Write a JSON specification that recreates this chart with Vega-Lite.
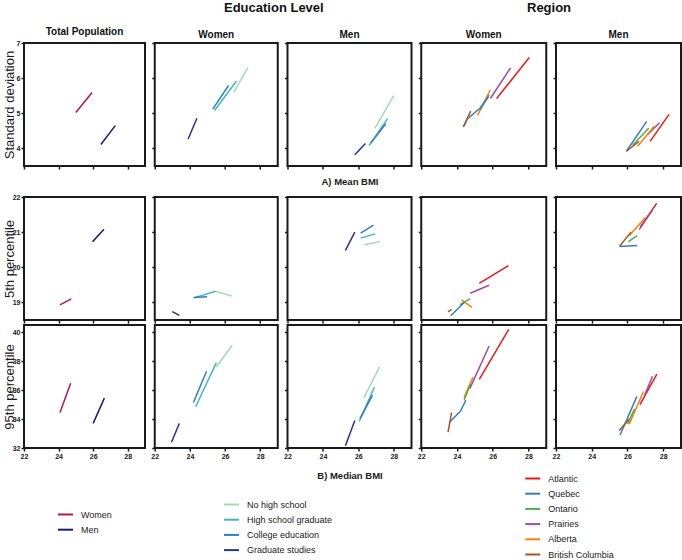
{
  "$schema": "https://vega.github.io/schema/vega-lite/v6.json",
  "padding": {"left": 2, "top": 1, "right": 0, "bottom": 0},
  "background": "white",
  "title": {"text": "Region", "anchor": "start", "dx": 525, "offset": -13, "fontSize": 13, "fontWeight": "bold"},
  "datasets": {
    "bmi": [
      {"c":1,"s":"SD","g":"Women","o":1,"x":25.0,"y":5.02},{"c":1,"s":"SD","g":"Women","o":2,"x":25.94,"y":5.59},
      {"c":1,"s":"SD","g":"Men","o":1,"x":26.45,"y":4.11},{"c":1,"s":"SD","g":"Men","o":2,"x":27.28,"y":4.65},
      {"c":1,"s":"P5","g":"Women","o":1,"x":24.08,"y":18.93},{"c":1,"s":"P5","g":"Women","o":2,"x":24.73,"y":19.1},
      {"c":1,"s":"P5","g":"Men","o":1,"x":25.97,"y":20.73},{"c":1,"s":"P5","g":"Men","o":2,"x":26.63,"y":21.08},
      {"c":1,"s":"P95","g":"Women","o":1,"x":24.08,"y":34.45},{"c":1,"s":"P95","g":"Women","o":2,"x":24.7,"y":36.48},
      {"c":1,"s":"P95","g":"Men","o":1,"x":26.0,"y":33.7},{"c":1,"s":"P95","g":"Men","o":2,"x":26.65,"y":35.45},

      {"c":2,"s":"SD","g":"No high school","o":1,"x":26.5,"y":5.6},{"c":2,"s":"SD","g":"No high school","o":2,"x":27.3,"y":6.3},
      {"c":2,"s":"SD","g":"High school graduate","o":1,"x":25.4,"y":5.08},{"c":2,"s":"SD","g":"High school graduate","o":2,"x":26.65,"y":5.92},
      {"c":2,"s":"SD","g":"College education","o":1,"x":25.3,"y":5.12},{"c":2,"s":"SD","g":"College education","o":2,"x":26.2,"y":5.79},
      {"c":2,"s":"SD","g":"Graduate studies","o":1,"x":23.9,"y":4.27},{"c":2,"s":"SD","g":"Graduate studies","o":2,"x":24.4,"y":4.86},
      {"c":2,"s":"P5","g":"No high school","o":1,"x":25.47,"y":19.32},{"c":2,"s":"P5","g":"No high school","o":2,"x":26.4,"y":19.18},
      {"c":2,"s":"P5","g":"High school graduate","o":1,"x":24.22,"y":19.13},{"c":2,"s":"P5","g":"High school graduate","o":2,"x":25.47,"y":19.32},
      {"c":2,"s":"P5","g":"College education","o":1,"x":24.22,"y":19.14},{"c":2,"s":"P5","g":"College education","o":2,"x":24.98,"y":19.16},
      {"c":2,"s":"P5","g":"Graduate studies","o":1,"x":23.0,"y":18.74},{"c":2,"s":"P5","g":"Graduate studies","o":2,"x":23.4,"y":18.63},
      {"c":2,"s":"P95","g":"No high school","o":1,"x":25.5,"y":37.6},{"c":2,"s":"P95","g":"No high school","o":2,"x":26.4,"y":39.1},
      {"c":2,"s":"P95","g":"High school graduate","o":1,"x":24.33,"y":34.85},{"c":2,"s":"P95","g":"High school graduate","o":2,"x":25.5,"y":37.88},
      {"c":2,"s":"P95","g":"College education","o":1,"x":24.2,"y":35.15},{"c":2,"s":"P95","g":"College education","o":2,"x":24.95,"y":37.3},
      {"c":2,"s":"P95","g":"Graduate studies","o":1,"x":22.95,"y":32.4},{"c":2,"s":"P95","g":"Graduate studies","o":2,"x":23.4,"y":33.7},

      {"c":3,"s":"SD","g":"No high school","o":1,"x":26.93,"y":4.57},{"c":3,"s":"SD","g":"No high school","o":2,"x":28.0,"y":5.5},
      {"c":3,"s":"SD","g":"High school graduate","o":1,"x":26.6,"y":4.08},{"c":3,"s":"SD","g":"High school graduate","o":2,"x":27.65,"y":4.85},
      {"c":3,"s":"SD","g":"College education","o":1,"x":26.7,"y":4.15},{"c":3,"s":"SD","g":"College education","o":2,"x":27.55,"y":4.7},
      {"c":3,"s":"SD","g":"Graduate studies","o":1,"x":25.8,"y":3.82},{"c":3,"s":"SD","g":"Graduate studies","o":2,"x":26.4,"y":4.14},
      {"c":3,"s":"P5","g":"No high school","o":1,"x":26.33,"y":20.64},{"c":3,"s":"P5","g":"No high school","o":2,"x":27.22,"y":20.73},
      {"c":3,"s":"P5","g":"High school graduate","o":1,"x":26.13,"y":20.83},{"c":3,"s":"P5","g":"High school graduate","o":2,"x":26.95,"y":20.95},
      {"c":3,"s":"P5","g":"College education","o":1,"x":26.13,"y":20.97},{"c":3,"s":"P5","g":"College education","o":2,"x":26.85,"y":21.2},
      {"c":3,"s":"P5","g":"Graduate studies","o":1,"x":25.27,"y":20.48},{"c":3,"s":"P5","g":"Graduate studies","o":2,"x":25.8,"y":21.0},
      {"c":3,"s":"P95","g":"No high school","o":1,"x":26.3,"y":35.45},{"c":3,"s":"P95","g":"No high school","o":2,"x":27.2,"y":37.6},
      {"c":3,"s":"P95","g":"High school graduate","o":1,"x":26.05,"y":33.84},{"c":3,"s":"P95","g":"High school graduate","o":2,"x":26.9,"y":36.19},
      {"c":3,"s":"P95","g":"College education","o":1,"x":26.1,"y":34.05},{"c":3,"s":"P95","g":"College education","o":2,"x":26.8,"y":35.66},
      {"c":3,"s":"P95","g":"Graduate studies","o":1,"x":25.27,"y":32.15},{"c":3,"s":"P95","g":"Graduate studies","o":2,"x":25.8,"y":33.9},

      {"c":4,"s":"SD","g":"Atlantic","o":1,"x":26.22,"y":5.42},{"c":4,"s":"SD","g":"Atlantic","o":2,"x":28.05,"y":6.59},
      {"c":4,"s":"SD","g":"Prairies","o":1,"x":25.87,"y":5.42},{"c":4,"s":"SD","g":"Prairies","o":2,"x":27.0,"y":6.29},
      {"c":4,"s":"SD","g":"Alberta","o":1,"x":25.15,"y":4.94},{"c":4,"s":"SD","g":"Alberta","o":2,"x":25.87,"y":5.67},
      {"c":4,"s":"SD","g":"Ontario","o":1,"x":25.3,"y":5.1},{"c":4,"s":"SD","g":"Ontario","o":2,"x":25.8,"y":5.53},
      {"c":4,"s":"SD","g":"Quebec","o":1,"x":24.39,"y":4.63},{"c":4,"s":"SD","g":"Quebec","o":2,"x":24.58,"y":4.84},{"c":4,"s":"SD","g":"Quebec","o":3,"x":25.3,"y":5.15},{"c":4,"s":"SD","g":"Quebec","o":4,"x":25.77,"y":5.47},
      {"c":4,"s":"SD","g":"British Columbia","o":1,"x":24.35,"y":4.61},{"c":4,"s":"SD","g":"British Columbia","o":2,"x":24.77,"y":5.06},
      {"c":4,"s":"P5","g":"Atlantic","o":1,"x":25.25,"y":19.54},{"c":4,"s":"P5","g":"Atlantic","o":2,"x":26.88,"y":20.05},
      {"c":4,"s":"P5","g":"Prairies","o":1,"x":24.74,"y":19.26},{"c":4,"s":"P5","g":"Prairies","o":2,"x":25.8,"y":19.49},
      {"c":4,"s":"P5","g":"Ontario","o":1,"x":24.17,"y":18.94},{"c":4,"s":"P5","g":"Ontario","o":2,"x":24.74,"y":19.11},
      {"c":4,"s":"P5","g":"Alberta","o":1,"x":24.26,"y":19.07},{"c":4,"s":"P5","g":"Alberta","o":2,"x":24.83,"y":18.86},
      {"c":4,"s":"P5","g":"Quebec","o":1,"x":23.65,"y":18.62},{"c":4,"s":"P5","g":"Quebec","o":2,"x":24.45,"y":19.02},
      {"c":4,"s":"P5","g":"British Columbia","o":1,"x":23.5,"y":18.73},{"c":4,"s":"P5","g":"British Columbia","o":2,"x":23.7,"y":18.8},
      {"c":4,"s":"P95","g":"Atlantic","o":1,"x":25.25,"y":36.75},{"c":4,"s":"P95","g":"Atlantic","o":2,"x":26.9,"y":40.2},
      {"c":4,"s":"P95","g":"Prairies","o":1,"x":24.72,"y":36.1},{"c":4,"s":"P95","g":"Prairies","o":2,"x":25.8,"y":39.05},
      {"c":4,"s":"P95","g":"Alberta","o":1,"x":24.4,"y":35.5},{"c":4,"s":"P95","g":"Alberta","o":2,"x":24.9,"y":36.9},
      {"c":4,"s":"P95","g":"Ontario","o":1,"x":24.4,"y":35.3},{"c":4,"s":"P95","g":"Ontario","o":2,"x":24.75,"y":36.4},
      {"c":4,"s":"P95","g":"Quebec","o":1,"x":23.6,"y":33.8},{"c":4,"s":"P95","g":"Quebec","o":2,"x":24.2,"y":34.55},{"c":4,"s":"P95","g":"Quebec","o":3,"x":24.5,"y":35.3},
      {"c":4,"s":"P95","g":"British Columbia","o":1,"x":23.5,"y":33.1},{"c":4,"s":"P95","g":"British Columbia","o":2,"x":23.7,"y":34.45},

      {"c":5,"s":"SD","g":"Atlantic","o":1,"x":27.27,"y":4.2},{"c":5,"s":"SD","g":"Atlantic","o":2,"x":28.33,"y":4.97},
      {"c":5,"s":"SD","g":"Prairies","o":1,"x":27.13,"y":4.4},{"c":5,"s":"SD","g":"Prairies","o":2,"x":27.8,"y":4.73},
      {"c":5,"s":"SD","g":"Alberta","o":1,"x":26.57,"y":4.06},{"c":5,"s":"SD","g":"Alberta","o":2,"x":27.5,"y":4.63},
      {"c":5,"s":"SD","g":"Ontario","o":1,"x":26.3,"y":4.1},{"c":5,"s":"SD","g":"Ontario","o":2,"x":27.2,"y":4.58},
      {"c":5,"s":"SD","g":"Quebec","o":1,"x":25.94,"y":3.92},{"c":5,"s":"SD","g":"Quebec","o":2,"x":27.08,"y":4.77},
      {"c":5,"s":"SD","g":"British Columbia","o":1,"x":25.94,"y":3.92},{"c":5,"s":"SD","g":"British Columbia","o":2,"x":26.65,"y":4.2},
      {"c":5,"s":"P5","g":"Atlantic","o":1,"x":26.72,"y":21.15},{"c":5,"s":"P5","g":"Atlantic","o":2,"x":27.64,"y":21.82},
      {"c":5,"s":"P5","g":"Prairies","o":1,"x":26.66,"y":21.07},{"c":5,"s":"P5","g":"Prairies","o":2,"x":27.42,"y":21.64},
      {"c":5,"s":"P5","g":"Alberta","o":1,"x":26.1,"y":20.9},{"c":5,"s":"P5","g":"Alberta","o":2,"x":27.0,"y":21.42},
      {"c":5,"s":"P5","g":"Ontario","o":1,"x":26.06,"y":20.73},{"c":5,"s":"P5","g":"Ontario","o":2,"x":26.54,"y":20.9},
      {"c":5,"s":"P5","g":"Quebec","o":1,"x":25.56,"y":20.59},{"c":5,"s":"P5","g":"Quebec","o":2,"x":26.54,"y":20.62},
      {"c":5,"s":"P5","g":"British Columbia","o":1,"x":25.56,"y":20.6},{"c":5,"s":"P5","g":"British Columbia","o":2,"x":26.2,"y":21.0},
      {"c":5,"s":"P95","g":"Atlantic","o":1,"x":26.7,"y":35.0},{"c":5,"s":"P95","g":"Atlantic","o":2,"x":27.65,"y":37.1},
      {"c":5,"s":"P95","g":"Prairies","o":1,"x":26.95,"y":35.6},{"c":5,"s":"P95","g":"Prairies","o":2,"x":27.4,"y":36.95},
      {"c":5,"s":"P95","g":"Alberta","o":1,"x":26.1,"y":33.65},{"c":5,"s":"P95","g":"Alberta","o":2,"x":26.9,"y":35.9},
      {"c":5,"s":"P95","g":"Ontario","o":1,"x":26.0,"y":33.65},{"c":5,"s":"P95","g":"Ontario","o":2,"x":26.4,"y":34.7},
      {"c":5,"s":"P95","g":"Quebec","o":1,"x":25.59,"y":32.9},{"c":5,"s":"P95","g":"Quebec","o":2,"x":26.53,"y":35.57},
      {"c":5,"s":"P95","g":"British Columbia","o":1,"x":25.53,"y":33.19},{"c":5,"s":"P95","g":"British Columbia","o":2,"x":26.1,"y":34.0}
    ]
  },
  "data": {"name": "bmi"},
  "resolve": {"scale": {"color": "independent"}},
  "spacing": 4,
  "vconcat": [
    {
      "title": {"text": "Education Level", "anchor": "start", "dx": 222, "offset": 11, "fontSize": 13, "fontWeight": "bold"},
      "bounds": "flush",
      "spacing": 9.75,
      "resolve": {"scale": {"color": "independent"}},
      "hconcat": [
        {"width": 121, "height": 123, "title": "Total Population",
         "transform": [{"filter": "datum.c == 1 && datum.s == 'SD'"}],
         "mark": {"type": "line", "strokeWidth": 1.5},
         "encoding": {
           "x": {"field": "x", "type": "quantitative", "scale": {"domain": [22, 29], "nice": false, "zero": false}, "axis": {"values": [22, 24, 26, 28], "labels": false, "title": null}},
           "y": {"field": "y", "type": "quantitative", "scale": {"domain": [3.5, 7], "nice": false, "zero": false}, "axis": {"values": [4, 5, 6, 7], "title": "Standard deviation", "titleFontSize": 13, "titleFontWeight": "normal", "titlePadding": 3, "minExtent": 5, "maxExtent": 5}},
           "color": {"field": "g", "type": "nominal", "scale": {"domain": ["Women", "Men"], "range": ["#b5174b", "#1a1a7a"]}, "legend": null},
           "order": {"field": "o"}}},
        {"width": 123, "height": 123, "title": "Women",
         "transform": [{"filter": "datum.c == 2 && datum.s == 'SD'"}],
         "mark": {"type": "line", "strokeWidth": 1.5},
         "encoding": {
           "x": {"field": "x", "type": "quantitative", "scale": {"domain": [22, 29], "nice": false, "zero": false}, "axis": {"values": [22, 24, 26, 28], "labels": false, "title": null}},
           "y": {"field": "y", "type": "quantitative", "scale": {"domain": [3.5, 7], "nice": false, "zero": false}, "axis": {"values": [4, 5, 6, 7], "labels": false, "title": null}},
           "color": {"field": "g", "type": "nominal", "scale": {"domain": ["No high school", "High school graduate", "College education", "Graduate studies"], "range": ["#a1dab4", "#41b6c4", "#2c7fb8", "#253494"]}, "legend": null},
           "order": {"field": "o"}}},
        {"width": 124, "height": 123, "title": "Men",
         "transform": [{"filter": "datum.c == 3 && datum.s == 'SD'"}],
         "mark": {"type": "line", "strokeWidth": 1.5},
         "encoding": {
           "x": {"field": "x", "type": "quantitative", "scale": {"domain": [22, 29], "nice": false, "zero": false}, "axis": {"values": [22, 24, 26, 28], "labels": false, "title": "A) Mean BMI", "titleFontSize": 9.5, "titleFontWeight": "bold", "titlePadding": 7}},
           "y": {"field": "y", "type": "quantitative", "scale": {"domain": [3.5, 7], "nice": false, "zero": false}, "axis": {"values": [4, 5, 6, 7], "labels": false, "title": null}},
           "color": {"field": "g", "type": "nominal", "scale": {"domain": ["No high school", "High school graduate", "College education", "Graduate studies"], "range": ["#a1dab4", "#41b6c4", "#2c7fb8", "#253494"]}, "legend": null},
           "order": {"field": "o"}}},
        {"width": 125, "height": 123, "title": "Women",
         "transform": [{"filter": "datum.c == 4 && datum.s == 'SD'"}],
         "mark": {"type": "line", "strokeWidth": 1.5},
         "encoding": {
           "x": {"field": "x", "type": "quantitative", "scale": {"domain": [22, 29], "nice": false, "zero": false}, "axis": {"values": [22, 24, 26, 28], "labels": false, "title": null}},
           "y": {"field": "y", "type": "quantitative", "scale": {"domain": [3.5, 7], "nice": false, "zero": false}, "axis": {"values": [4, 5, 6, 7], "labels": false, "title": null}},
           "color": {"field": "g", "type": "nominal", "scale": {"domain": ["Atlantic", "Quebec", "Ontario", "Prairies", "Alberta", "British Columbia"], "range": ["#e41a1c", "#377eb8", "#4daf4a", "#984ea3", "#ff7f00", "#a65628"]}, "legend": null},
           "order": {"field": "o"}}},
        {"width": 125, "height": 123, "title": "Men",
         "transform": [{"filter": "datum.c == 5 && datum.s == 'SD'"}],
         "mark": {"type": "line", "strokeWidth": 1.5},
         "encoding": {
           "x": {"field": "x", "type": "quantitative", "scale": {"domain": [22, 29], "nice": false, "zero": false}, "axis": {"values": [22, 24, 26, 28], "labels": false, "title": null}},
           "y": {"field": "y", "type": "quantitative", "scale": {"domain": [3.5, 7], "nice": false, "zero": false}, "axis": {"values": [4, 5, 6, 7], "labels": false, "title": null}},
           "color": {"field": "g", "type": "nominal", "scale": {"domain": ["Atlantic", "Quebec", "Ontario", "Prairies", "Alberta", "British Columbia"], "range": ["#e41a1c", "#377eb8", "#4daf4a", "#984ea3", "#ff7f00", "#a65628"]}, "legend": null},
           "order": {"field": "o"}}}
      ]
    },
    {
      "spacing": -1,
      "resolve": {"scale": {"color": "independent"}},
      "vconcat": [
        {
          "bounds": "flush",
          "spacing": 9.75,
          "resolve": {"scale": {"color": "independent"}},
          "hconcat": [
            {"width": 121, "height": 123,
             "transform": [{"filter": "datum.c == 1 && datum.s == 'P5'"}],
             "mark": {"type": "line", "strokeWidth": 1.5},
             "encoding": {
               "x": {"field": "x", "type": "quantitative", "scale": {"domain": [22, 29], "nice": false, "zero": false}, "axis": {"values": [22, 24, 26, 28], "labels": false, "title": null}},
               "y": {"field": "y", "type": "quantitative", "scale": {"domain": [18.5, 22], "nice": false, "zero": false}, "axis": {"values": [19, 20, 21, 22], "title": "5th percentile", "titleFontSize": 13, "titleFontWeight": "normal", "titlePadding": 3, "minExtent": 5, "maxExtent": 5}},
               "color": {"field": "g", "type": "nominal", "scale": {"domain": ["Women", "Men"], "range": ["#b5174b", "#1a1a7a"]}, "legend": null},
               "order": {"field": "o"}}},
            {"width": 123, "height": 123,
             "transform": [{"filter": "datum.c == 2 && datum.s == 'P5'"}],
             "mark": {"type": "line", "strokeWidth": 1.5},
             "encoding": {
               "x": {"field": "x", "type": "quantitative", "scale": {"domain": [22, 29], "nice": false, "zero": false}, "axis": {"values": [22, 24, 26, 28], "labels": false, "title": null}},
               "y": {"field": "y", "type": "quantitative", "scale": {"domain": [18.5, 22], "nice": false, "zero": false}, "axis": {"values": [19, 20, 21, 22], "labels": false, "title": null}},
               "color": {"field": "g", "type": "nominal", "scale": {"domain": ["No high school", "High school graduate", "College education", "Graduate studies"], "range": ["#a1dab4", "#41b6c4", "#2c7fb8", "#253494"]}, "legend": null},
               "order": {"field": "o"}}},
            {"width": 124, "height": 123,
             "transform": [{"filter": "datum.c == 3 && datum.s == 'P5'"}],
             "mark": {"type": "line", "strokeWidth": 1.5},
             "encoding": {
               "x": {"field": "x", "type": "quantitative", "scale": {"domain": [22, 29], "nice": false, "zero": false}, "axis": {"values": [22, 24, 26, 28], "labels": false, "title": null}},
               "y": {"field": "y", "type": "quantitative", "scale": {"domain": [18.5, 22], "nice": false, "zero": false}, "axis": {"values": [19, 20, 21, 22], "labels": false, "title": null}},
               "color": {"field": "g", "type": "nominal", "scale": {"domain": ["No high school", "High school graduate", "College education", "Graduate studies"], "range": ["#a1dab4", "#41b6c4", "#2c7fb8", "#253494"]}, "legend": null},
               "order": {"field": "o"}}},
            {"width": 125, "height": 123,
             "transform": [{"filter": "datum.c == 4 && datum.s == 'P5'"}],
             "mark": {"type": "line", "strokeWidth": 1.5},
             "encoding": {
               "x": {"field": "x", "type": "quantitative", "scale": {"domain": [22, 29], "nice": false, "zero": false}, "axis": {"values": [22, 24, 26, 28], "labels": false, "title": null}},
               "y": {"field": "y", "type": "quantitative", "scale": {"domain": [18.5, 22], "nice": false, "zero": false}, "axis": {"values": [19, 20, 21, 22], "labels": false, "title": null}},
               "color": {"field": "g", "type": "nominal", "scale": {"domain": ["Atlantic", "Quebec", "Ontario", "Prairies", "Alberta", "British Columbia"], "range": ["#e41a1c", "#377eb8", "#4daf4a", "#984ea3", "#ff7f00", "#a65628"]}, "legend": null},
               "order": {"field": "o"}}},
            {"width": 125, "height": 123,
             "transform": [{"filter": "datum.c == 5 && datum.s == 'P5'"}],
             "mark": {"type": "line", "strokeWidth": 1.5},
             "encoding": {
               "x": {"field": "x", "type": "quantitative", "scale": {"domain": [22, 29], "nice": false, "zero": false}, "axis": {"values": [22, 24, 26, 28], "labels": false, "title": null}},
               "y": {"field": "y", "type": "quantitative", "scale": {"domain": [18.5, 22], "nice": false, "zero": false}, "axis": {"values": [19, 20, 21, 22], "labels": false, "title": null}},
               "color": {"field": "g", "type": "nominal", "scale": {"domain": ["Atlantic", "Quebec", "Ontario", "Prairies", "Alberta", "British Columbia"], "range": ["#e41a1c", "#377eb8", "#4daf4a", "#984ea3", "#ff7f00", "#a65628"]}, "legend": null},
               "order": {"field": "o"}}}
          ]
        },
        {
          "bounds": "flush",
          "spacing": 9.75,
          "resolve": {"scale": {"color": "independent"}},
          "hconcat": [
            {"width": 121, "height": 123,
             "transform": [{"filter": "datum.c == 1 && datum.s == 'P95'"}],
             "mark": {"type": "line", "strokeWidth": 1.5},
             "encoding": {
               "x": {"field": "x", "type": "quantitative", "scale": {"domain": [22, 29], "nice": false, "zero": false}, "axis": {"values": [22, 24, 26, 28], "title": null}},
               "y": {"field": "y", "type": "quantitative", "scale": {"domain": [32, 40.5], "nice": false, "zero": false}, "axis": {"values": [32, 34, 36, 38, 40], "title": "95th percentile", "titleFontSize": 13, "titleFontWeight": "normal", "titlePadding": 3, "minExtent": 5, "maxExtent": 5}},
               "color": {"field": "g", "type": "nominal", "scale": {"domain": ["Women", "Men"], "range": ["#b5174b", "#1a1a7a"]},
                 "legend": {"orient": "none", "legendX": 33, "legendY": 181, "title": null, "direction": "vertical", "symbolType": "stroke", "symbolSize": 225, "symbolStrokeWidth": 2, "labelFontSize": 9, "labelOffset": 7, "rowPadding": 1.2}},
               "order": {"field": "o"}}},
            {"width": 123, "height": 123,
             "transform": [{"filter": "datum.c == 2 && datum.s == 'P95'"}],
             "mark": {"type": "line", "strokeWidth": 1.5},
             "encoding": {
               "x": {"field": "x", "type": "quantitative", "scale": {"domain": [22, 29], "nice": false, "zero": false}, "axis": {"values": [22, 24, 26, 28], "title": null}},
               "y": {"field": "y", "type": "quantitative", "scale": {"domain": [32, 40.5], "nice": false, "zero": false}, "axis": {"values": [32, 34, 36, 38, 40], "labels": false, "title": null}},
               "color": {"field": "g", "type": "nominal", "scale": {"domain": ["No high school", "High school graduate", "College education", "Graduate studies"], "range": ["#a1dab4", "#41b6c4", "#2c7fb8", "#253494"]},
                 "legend": {"orient": "none", "legendX": 68.25, "legendY": 171, "title": null, "direction": "vertical", "symbolType": "stroke", "symbolSize": 225, "symbolStrokeWidth": 2, "labelFontSize": 9, "labelOffset": 7, "rowPadding": 1.2}},
               "order": {"field": "o"}}},
            {"width": 124, "height": 123,
             "transform": [{"filter": "datum.c == 3 && datum.s == 'P95'"}],
             "mark": {"type": "line", "strokeWidth": 1.5},
             "encoding": {
               "x": {"field": "x", "type": "quantitative", "scale": {"domain": [22, 29], "nice": false, "zero": false}, "axis": {"values": [22, 24, 26, 28], "title": "B) Median BMI", "titleFontSize": 9.5, "titleFontWeight": "bold", "titlePadding": 11}},
               "y": {"field": "y", "type": "quantitative", "scale": {"domain": [32, 40.5], "nice": false, "zero": false}, "axis": {"values": [32, 34, 36, 38, 40], "labels": false, "title": null}},
               "color": {"field": "g", "type": "nominal", "scale": {"domain": ["No high school", "High school graduate", "College education", "Graduate studies"], "range": ["#a1dab4", "#41b6c4", "#2c7fb8", "#253494"]}, "legend": null},
               "order": {"field": "o"}}},
            {"width": 125, "height": 123,
             "transform": [{"filter": "datum.c == 4 && datum.s == 'P95'"}],
             "mark": {"type": "line", "strokeWidth": 1.5},
             "encoding": {
               "x": {"field": "x", "type": "quantitative", "scale": {"domain": [22, 29], "nice": false, "zero": false}, "axis": {"values": [22, 24, 26, 28], "title": null}},
               "y": {"field": "y", "type": "quantitative", "scale": {"domain": [32, 40.5], "nice": false, "zero": false}, "axis": {"values": [32, 34, 36, 38, 40], "labels": false, "title": null}},
               "color": {"field": "g", "type": "nominal", "scale": {"domain": ["Atlantic", "Quebec", "Ontario", "Prairies", "Alberta", "British Columbia"], "range": ["#e41a1c", "#377eb8", "#4daf4a", "#984ea3", "#ff7f00", "#a65628"]},
                 "legend": {"orient": "none", "legendX": 103, "legendY": 145, "title": null, "direction": "vertical", "symbolType": "stroke", "symbolSize": 225, "symbolStrokeWidth": 2, "labelFontSize": 9, "labelOffset": 7, "rowPadding": 1.2}},
               "order": {"field": "o"}}},
            {"width": 125, "height": 123,
             "transform": [{"filter": "datum.c == 5 && datum.s == 'P95'"}],
             "mark": {"type": "line", "strokeWidth": 1.5},
             "encoding": {
               "x": {"field": "x", "type": "quantitative", "scale": {"domain": [22, 29], "nice": false, "zero": false}, "axis": {"values": [22, 24, 26, 28], "title": null}},
               "y": {"field": "y", "type": "quantitative", "scale": {"domain": [32, 40.5], "nice": false, "zero": false}, "axis": {"values": [32, 34, 36, 38, 40], "labels": false, "title": null}},
               "color": {"field": "g", "type": "nominal", "scale": {"domain": ["Atlantic", "Quebec", "Ontario", "Prairies", "Alberta", "British Columbia"], "range": ["#e41a1c", "#377eb8", "#4daf4a", "#984ea3", "#ff7f00", "#a65628"]}, "legend": null},
               "order": {"field": "o"}}}
          ]
        }
      ]
    }
  ],
  "config": {
    "font": "Liberation Sans",
    "view": {"stroke": "#1a1a1a", "strokeWidth": 2},
    "axis": {"domain": false, "grid": false, "ticks": true, "tickSize": 3, "tickWidth": 1.5, "tickColor": "#1a1a1a", "labelFont": "Liberation Sans", "labelFontSize": 7, "labelFontWeight": "bold", "labelColor": "#1a1a1a", "labelPadding": 1, "labelFlush": false, "labelOverlap": false, "titleColor": "#1a1a1a", "titleFont": "Liberation Sans"},
    "title": {"font": "Liberation Sans", "fontSize": 10, "fontWeight": "bold", "offset": 2.5, "color": "#111111"},
    "legend": {"labelFont": "Liberation Sans", "labelColor": "#222222"}
  }
}
